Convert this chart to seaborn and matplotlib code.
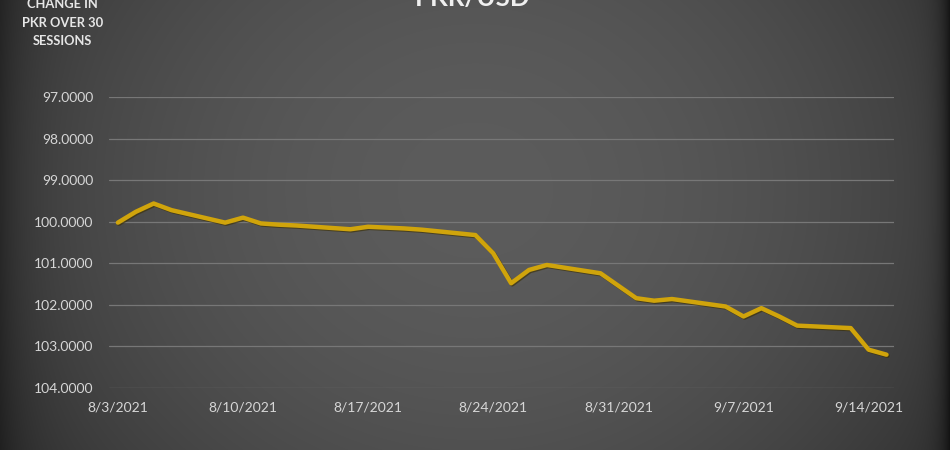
import numpy as np
import pandas as pd
import matplotlib
matplotlib.use("Agg")
import matplotlib.pyplot as plt
import matplotlib.patheffects as pe
import seaborn as sns

dates = ["2021-08-03", "2021-08-04", "2021-08-05", "2021-08-06", "2021-08-09",
         "2021-08-10", "2021-08-11", "2021-08-12", "2021-08-13", "2021-08-16",
         "2021-08-17", "2021-08-18", "2021-08-19", "2021-08-20", "2021-08-23",
         "2021-08-24", "2021-08-25", "2021-08-26", "2021-08-27", "2021-08-30",
         "2021-08-31", "2021-09-01", "2021-09-02", "2021-09-03", "2021-09-06",
         "2021-09-07", "2021-09-08", "2021-09-09", "2021-09-10", "2021-09-13",
         "2021-09-14", "2021-09-15"]
pkr = [100.02, 99.76, 99.56, 99.72, 100.02,
       99.90, 100.04, 100.07, 100.09, 100.18,
       100.12, 100.14, 100.16, 100.19, 100.32,
       100.76, 101.48, 101.16, 101.04, 101.24,
       101.54, 101.84, 101.90, 101.86, 102.04,
       102.28, 102.08, 102.28, 102.50, 102.56,
       103.08, 103.20]
tick_dates = ["2021-08-03", "2021-08-10", "2021-08-17", "2021-08-24",
              "2021-08-31", "2021-09-07", "2021-09-14"]
tick_labels = ["8/3/2021", "8/10/2021", "8/17/2021", "8/24/2021",
               "8/31/2021", "9/7/2021", "9/14/2021"]
y_ticks = [97, 98, 99, 100, 101, 102, 103, 104]

df = pd.DataFrame({"date": pd.to_datetime(dates), "pkr": pkr})

sns.set_theme(style="dark")
plt.rcParams["font.family"] = ["Lato", "DejaVu Sans"]

fig = plt.figure(figsize=(9.5, 4.5), dpi=100)

# radial gradient background with darker side edges
H, W = 450, 950
yy, xx = np.mgrid[0:H, 0:W].astype(float)
cx, cy = 475, 190
rx = (xx - cx) / 480.0
ry = (yy - cy) / 420.0
val = 0.36 - 0.12 * (rx ** 2 + ry ** 2)
val *= 1 - 0.6 * np.exp(-(W - 1 - xx) / 10.0) - 0.35 * np.exp(-xx / 25.0)
val = np.clip(val, 0.08, 0.4)
bg = fig.add_axes([0, 0, 1, 1], zorder=-10)
bg.imshow(np.dstack([val, val, val]), aspect="auto", extent=[0, 1, 0, 1])
bg.axis("off")

ax = fig.add_axes([0.1147, 0.138, 0.8263, 0.646])
ax.set_facecolor("none")
sns.lineplot(data=df, x="date", y="pkr", ax=ax, color="#D0A40B", linewidth=3.2,
             path_effects=[pe.SimpleLineShadow(offset=(0.8, -0.8), shadow_color="#3a2e00", alpha=0.6),
                           pe.Normal()])

ax.set_ylim(104, 97)
ax.set_yticks(y_ticks)
ax.set_yticklabels([f"{v:.4f}" for v in y_ticks])
td = pd.to_datetime(tick_dates)
ax.set_xticks(td)
ax.set_xticklabels(tick_labels)
ax.set_xlim(pd.Timestamp("2021-08-02 12:00"), pd.Timestamp("2021-09-15 10:00"))

ax.grid(axis="y", color="#777777", linewidth=0.9)
ax.grid(axis="x", visible=False)
for s in ax.spines.values():
    s.set_visible(False)
ax.tick_params(axis="both", colors="#d6d6d6", labelsize=10, length=0)
ax.tick_params(axis="y", pad=11)
ax.tick_params(axis="x", pad=10)
ax.set_xlabel("")
ax.set_ylabel("")

fig.text(0.497, 1.005, "PKR/USD", ha="center", va="center", color="#f0f0f0",
         fontsize=18.5, fontweight="bold")
fig.text(0.066, 0.949, "CHANGE IN\nPKR OVER 30\nSESSIONS", ha="center", va="center",
         color="#e6e6e6", fontsize=9.3, fontweight="bold", linespacing=1.65)

fig.savefig("out.png", dpi=100)
